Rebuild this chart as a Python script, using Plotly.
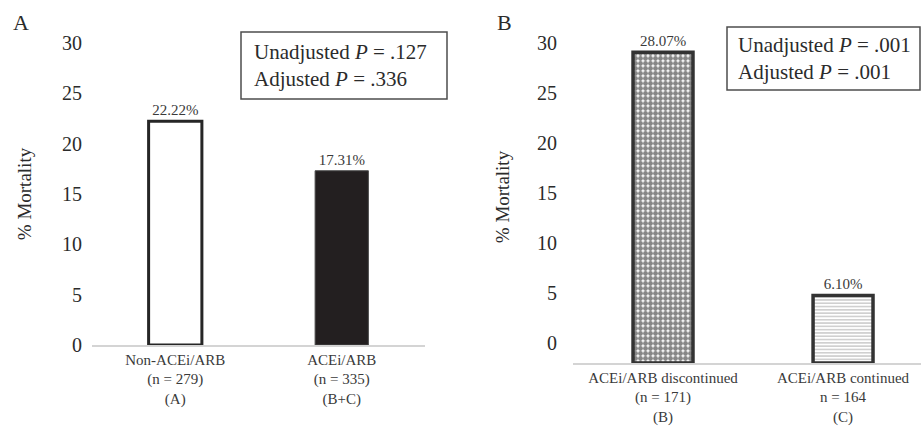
import plotly.graph_objects as go

W, H = 921, 427

# ---- data ----
cats_a = ["Non-ACEi/ARB", "ACEi/ARB"]
ticktext_a = ["Non-ACEi/ARB<br>(n = 279)<br>(A)", "ACEi/ARB<br>(n = 335)<br>(B+C)"]
mort_a = [22.22, 17.31]

cats_b = ["ACEi/ARB discontinued", "ACEi/ARB continued"]
ticktext_b = ["ACEi/ARB discontinued<br>(n = 171)<br>(B)", "ACEi/ARB continued<br>n = 164<br>(C)"]
mort_b = [28.07, 6.10]

pvals_a = ["Unadjusted <i>P</i> = .127", "Adjusted <i>P</i> = .336"]
pvals_b = ["Unadjusted <i>P</i> = .001", "Adjusted <i>P</i> = .001"]

y_ticks = [0, 5, 10, 15, 20, 25, 30]

FONT = "Liberation Serif"
TXT = "#2b2b2b"
TXT2 = "#3a3a3a"

def px_x(p):
    return p / W

def px_y(p):
    return 1 - p / H

fig = go.Figure()

# Panel A bars
fig.add_trace(go.Bar(
    x=cats_a, y=mort_a, xaxis="x", yaxis="y",
    width=0.32,
    marker=dict(color=["white", "#231f20"],
                line=dict(color=["#262626", "#4a4a4a"], width=[3, 1])),
    text=[f"{v:.2f}%" for v in mort_a], textposition="outside",
    textfont=dict(family=FONT, size=15, color=TXT2),
    cliponaxis=False, showlegend=False, hoverinfo="skip",
))

# Panel B bars
fig.add_trace(go.Bar(
    x=cats_b, y=mort_b, xaxis="x2", yaxis="y2",
    width=0.333,
    marker=dict(color="white",
                line=dict(color="#333333", width=3.5),
                pattern=dict(shape=[".", "-"], size=[5, 3.3], solidity=[0.75, 0.4],
                             fgcolor=["#0d0d0d", "#8a8a8a"], bgcolor="white",
                             fillmode="overlay")),
    text=[f"{v:.2f}%" for v in mort_b], textposition="outside",
    textfont=dict(family=FONT, size=15, color=TXT2),
    cliponaxis=False, showlegend=False, hoverinfo="skip",
))

# empty trace to realise the B tick axis
fig.add_trace(go.Scatter(x=[], y=[], xaxis="x2", yaxis="y3", showlegend=False, hoverinfo="skip"))

tickfont_y = dict(family=FONT, size=20, color=TXT)
tickfont_x = dict(family=FONT, size=15, color=TXT2)
titlefont = dict(family=FONT, size=19, color=TXT)

fig.update_layout(
    template="none",
    width=W, height=H,
    margin=dict(l=0, r=0, t=0, b=0, autoexpand=False),
    paper_bgcolor="white", plot_bgcolor="white",
    bargap=0.68,
    xaxis=dict(domain=[px_x(92), px_x(425)], anchor="y", automargin=False,
               type="category", range=[-0.5, 1.5],
               tickmode="array", tickvals=cats_a, ticktext=ticktext_a,
               tickfont=tickfont_x, showline=True, linecolor="#d4d4d4", linewidth=1.5,
               ticks="", showgrid=False, zeroline=False),
    yaxis=dict(domain=[px_y(345), px_y(43)], anchor="x", automargin=False,
               range=[0, 30], tickvals=y_ticks, tickfont=tickfont_y,
               ticks="outside", ticklen=5, tickcolor="rgba(0,0,0,0)",
               showline=False, showgrid=False, zeroline=False,
               title=dict(text="% Mortality", font=titlefont, standoff=25)),
    xaxis2=dict(domain=[px_x(573), 1], anchor="y2", automargin=False,
                type="category", range=[-0.5, 1.433],
                tickmode="array", tickvals=cats_b, ticktext=ticktext_b,
                tickfont=tickfont_x, showline=True, linecolor="#d4d4d4", linewidth=1.5,
                ticks="", showgrid=False, zeroline=False),
    yaxis2=dict(domain=[px_y(363), px_y(31)], anchor="x2", automargin=False,
                range=[0, 30], visible=False, showgrid=False, zeroline=False),
    yaxis3=dict(overlaying="y2", anchor="x2", side="left", automargin=False,
                range=[-2.0, 31.2], tickvals=y_ticks, tickfont=tickfont_y,
                ticks="outside", ticklen=11, tickcolor="rgba(0,0,0,0)",
                showline=False, showgrid=False, zeroline=False,
                title=dict(text="% Mortality", font=titlefont, standoff=22)),
)

# Panel letters
fig.add_annotation(text="A", x=px_x(21), y=px_y(22), xref="paper", yref="paper",
                   xanchor="center", yanchor="middle",
                   showarrow=False, font=dict(family=FONT, size=22, color=TXT))
fig.add_annotation(text="B", x=px_x(504), y=px_y(22), xref="paper", yref="paper",
                   xanchor="center", yanchor="middle",
                   showarrow=False, font=dict(family=FONT, size=22, color=TXT))

# P-value boxes
fig.add_shape(type="rect", xref="paper", yref="paper",
              x0=px_x(241), x1=px_x(447), y0=px_y(99), y1=px_y(32),
              line=dict(color="#4d4d4d", width=1.5), fillcolor="white")
fig.add_annotation(text="<br>".join(pvals_a), x=px_x(253), y=px_y(65.5),
                   xref="paper", yref="paper", xanchor="left", yanchor="middle",
                   align="left", showarrow=False, borderpad=0,
                   font=dict(family=FONT, size=21, color=TXT))
fig.add_shape(type="rect", xref="paper", yref="paper",
              x0=px_x(727), x1=px_x(920), y0=px_y(90), y1=px_y(27),
              line=dict(color="#4d4d4d", width=1.5), fillcolor="white")
fig.add_annotation(text="<br>".join(pvals_b), x=px_x(737), y=px_y(58.5),
                   xref="paper", yref="paper", xanchor="left", yanchor="middle",
                   align="left", showarrow=False, borderpad=0,
                   font=dict(family=FONT, size=21, color=TXT))

fig.write_html("out.html", config={"displayModeBar": False},
               post_script="document.body.style.margin='0px';")
